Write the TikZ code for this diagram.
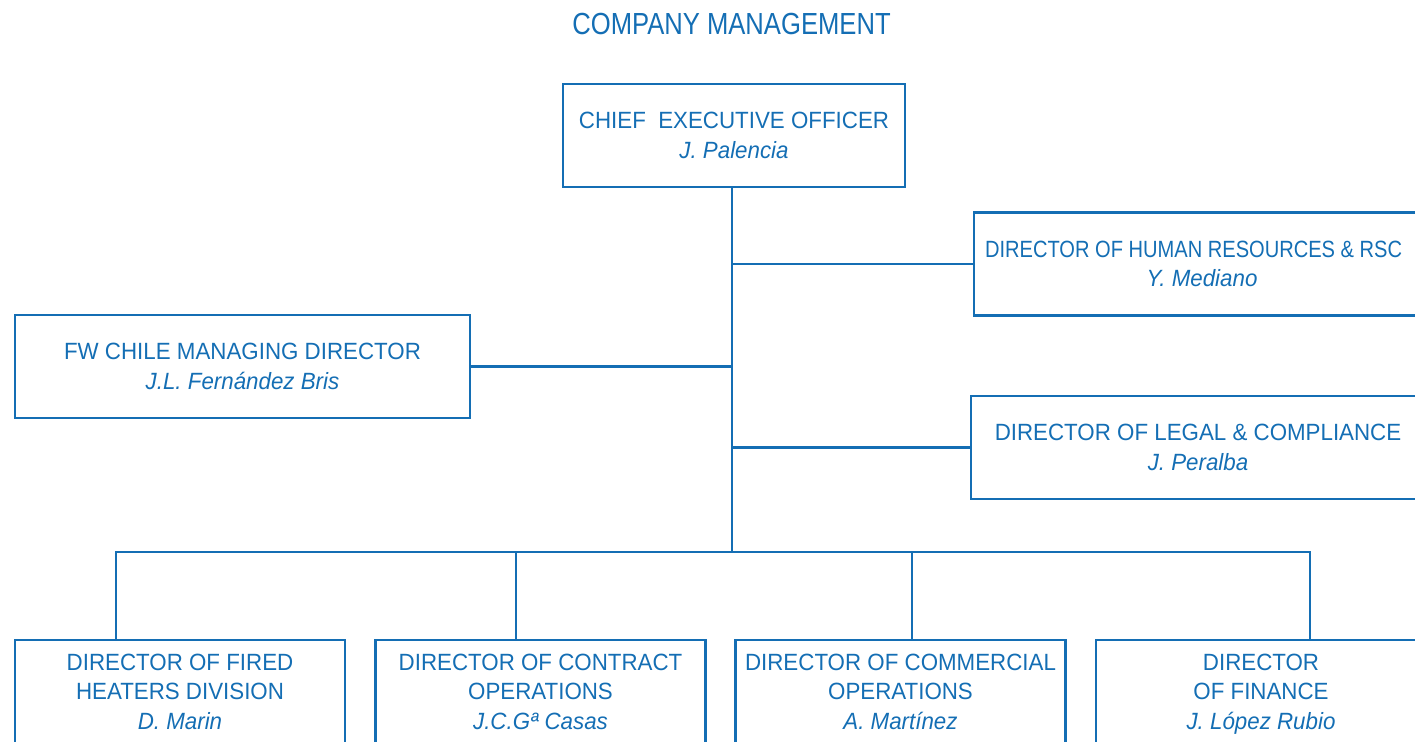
\documentclass[tikz,border=0pt]{standalone}
\usepackage{fontspec}
\setmainfont{Liberation Sans}[FakeStretch=0.95]
\newfontfamily\titlefont{Liberation Sans}[FakeStretch=0.84]
\usetikzlibrary{positioning}
\definecolor{fwblue}{RGB}{20,110,180}
\newcommand{\who}[1]{\\\raisebox{0pt}[\height][0pt]{\textit{#1}}}
\tikzset{
  post/.style={draw=fwblue, line width=2.8pt, text=fwblue, inner sep=0pt,
    minimum height=103pt, align=center,
    font=\fontsize{23.5}{29.5}\selectfont},
  link/.style={draw=fwblue, line width=2.8pt}
}

\begin{document}
\begin{tikzpicture}[x=1pt,y=-1pt]
       \useasboundingbox (0,0) rectangle (1415,741);
       \clip (0,0) rectangle (1415,741);
       \node[text=fwblue,font=\titlefont\fontsize{30.5}{36}\selectfont] (title) at (731.5,24) {COMPANY MANAGEMENT};
       % top level
       \node[post,minimum width=342pt] (ceo) at (734,135.5) {CHIEF\ \ EXECUTIVE OFFICER\who{J. Palencia}};
       \node[post,minimum width=456pt] (hr) at (1202,264) {\makebox[434pt][l]{\scalebox{0.9}[1]{DIRECTOR OF HUMAN RESOURCES \& RSC}}\who{Y. Mediano}};
       \node[post,minimum width=455pt] (fw) at (242.5,366.5) {FW CHILE MANAGING DIRECTOR\who{J.L. Fernández Bris}};
       \node[post,minimum width=454pt] (legal) at (1198,447.5) {DIRECTOR OF LEGAL \& COMPLIANCE\who{J. Peralba}};
       % directors row
       \node[post,minimum width=330pt] (fired) at (180,691.5) {DIRECTOR OF FIRED\\HEATERS DIVISION\who{D. Marin}};
       \node[post,minimum width=330pt] (contract) at (540.5,691.5) {DIRECTOR OF CONTRACT\\OPERATIONS\who{J.C.Gª Casas}};
       \node[post,minimum width=330pt] (commercial) at (900.5,691.5) {DIRECTOR OF COMMERCIAL\\OPERATIONS\who{A. Martínez}};
       \node[post,minimum width=330pt] (finance) at (1261,691.5) {DIRECTOR\\OF FINANCE\who{J. López Rubio}};
       \coordinate (bus) at (732,552);
       \coordinate (d1) at (116,552);
       \coordinate (d2) at (516,552);
       \coordinate (d3) at (912,552);
       \coordinate (d4) at (1310,552);
       % lines
       \draw[link] (ceo.south -| bus) -- (bus);
       \draw[link] (hr.west) -- (hr.west -| bus);
       \draw[link] (fw.east) -- (fw.east -| bus);
       \draw[link] (legal.west) -- (legal.west -| bus);
       \draw[link] (d1 |- fired.north) -- (d1) -- (d4) -- (d4 |- finance.north);
       \draw[link] (d2) -- (d2 |- contract.north);
       \draw[link] (d3) -- (d3 |- commercial.north);
\end{tikzpicture}
\end{document}
